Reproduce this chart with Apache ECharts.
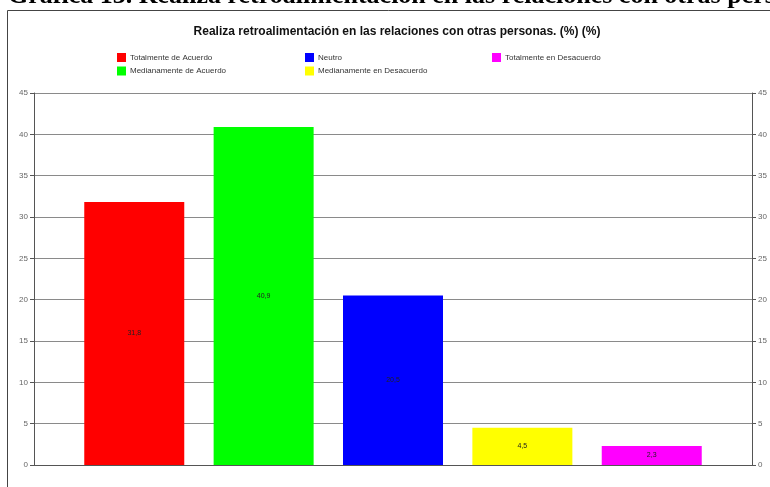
<!DOCTYPE html>
<html>
<head>
<meta charset="utf-8">
<script src="https://cdn.jsdelivr.net/npm/echarts@6/dist/echarts.min.js"></script>
<style>
  html, body { margin: 0; padding: 0; background: #fff; }
  #chart { width: 770px; height: 487px; }
</style>
</head>
<body>
<div id="chart"></div>
<script>
// datos de la grafica
const categorias = [
  'Totalmente de Acuerdo',
  'Medianamente de Acuerdo',
  'Neutro',
  'Medianamente en Desacuerdo',
  'Totalmente en Desacuerdo'
]
const valores = [31.8, 40.9, 20.5, 4.5, 2.3]
const colores = ['#ff0000', '#00ff00', '#0000ff', '#ffff00', '#ff00ff']
const titulo = 'Realiza retroalimentación en las relaciones con otras personas. (%) (%)'
const encabezado = 'Gráfica 13. Realiza retroalimentación en las relaciones con otras personas'

const chart = echarts.init(document.getElementById('chart'))

const ejeY = {
  type: 'value',
  min: 0,
  max: 45,
  interval: 5,
  axisLine: { show: true, onZero: false, lineStyle: { color: '#555', width: 1 } },
  axisTick: { show: true, length: 4, lineStyle: { color: '#555' } },
  axisLabel: { fontSize: 8, color: '#666', margin: 6, fontFamily: 'Liberation Sans' }
}

const leyenda = (items, left) => ({
  orient: 'vertical',
  left: left,
  top: 53,
  padding: 0,
  itemWidth: 9,
  itemHeight: 9,
  itemGap: 4.5,
  icon: 'rect',
  data: items,
  textStyle: { fontSize: 8, color: '#333', fontFamily: 'Liberation Sans', padding: [0, 0, 0, -1] }
})

chart.setOption({
  animation: false,
  title: {
    text: titulo,
    left: 392,
    top: 21,
    textAlign: 'center',
    textStyle: { fontSize: 12, fontWeight: 'bold', color: '#111', fontFamily: 'Liberation Sans' }
  },
  legend: [
    leyenda([categorias[0], categorias[1]], 117),
    leyenda([categorias[2], categorias[3]], 305),
    leyenda([categorias[4]], 492)
  ],
  graphic: [
    {
      type: 'text',
      x: 8,
      y: -3.5,
      style: {
        text: encabezado,
        font: 'bold 26px "Liberation Serif"',
        fill: '#000',
        verticalAlign: 'middle'
      }
    },
    {
      type: 'polyline',
      shape: { points: [[7.5, 487], [7.5, 10.5], [770, 10.5]] },
      style: { stroke: '#444', lineWidth: 1, fill: null }
    }
  ],
  grid: { left: 34, right: 18, top: 93, bottom: 22 },
  xAxis: {
    type: 'value',
    min: -0.775,
    max: 4.775,
    axisLine: { show: true, onZero: false, lineStyle: { color: '#555' } },
    axisTick: { show: false },
    axisLabel: { show: false },
    splitLine: { show: false }
  },
  yAxis: [
    Object.assign({}, ejeY, {
      position: 'left',
      splitLine: { show: true, lineStyle: { color: '#8a8a8a', width: 1 } }
    }),
    Object.assign({}, ejeY, {
      position: 'right',
      splitLine: { show: false }
    })
  ],
  series: categorias.map((nombre, i) => ({
    name: nombre,
    type: 'bar',
    barWidth: 100,
    barGap: '-100%',
    itemStyle: { color: colores[i] },
    label: {
      show: true,
      position: 'inside',
      fontSize: 7,
      color: '#222',
      fontFamily: 'Liberation Sans',
      formatter: p => String(p.value[1]).replace('.', ',')
    },
    data: [[i, valores[i]]]
  }))
})
</script>
</body>
</html>
